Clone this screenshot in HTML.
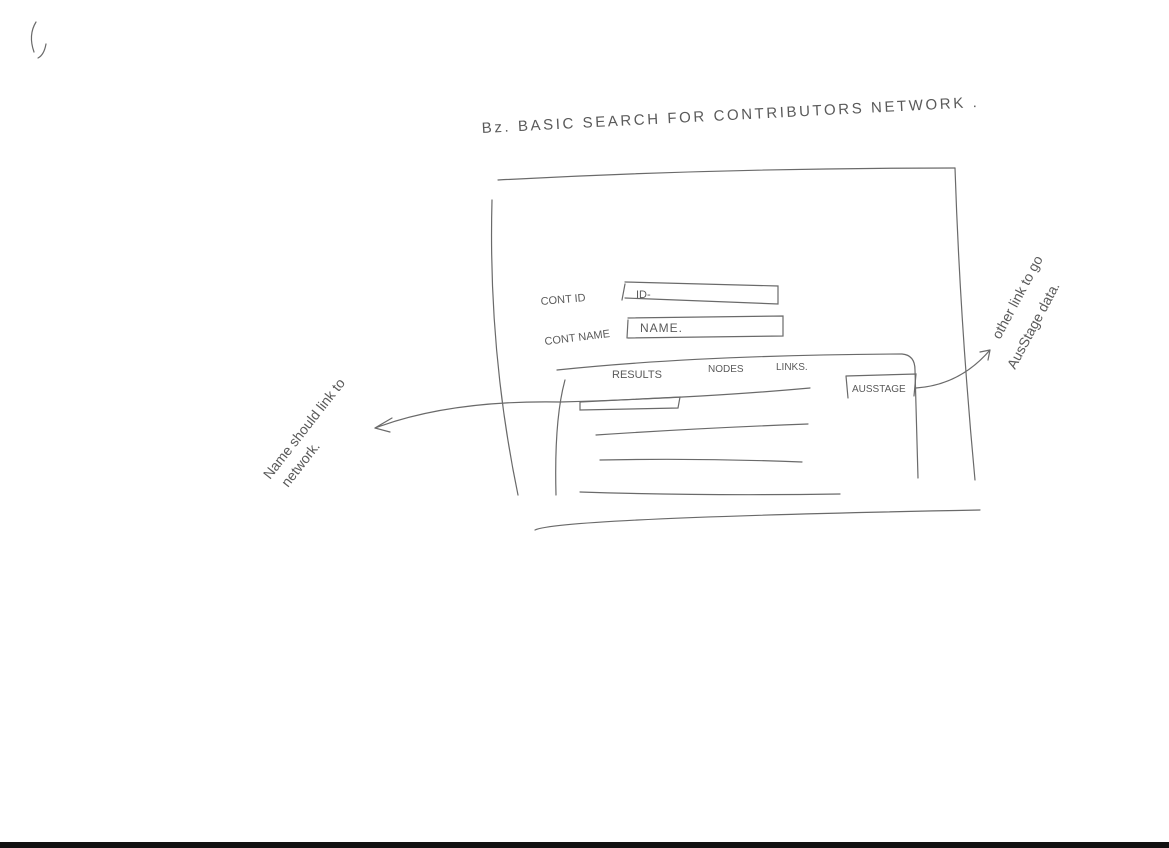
<!DOCTYPE html>
<html><head><style>html,body{margin:0;padding:0;background:#fff;}svg{display:block}</style></head>
<body>
<svg width="1169" height="848" viewBox="0 0 1169 848" xmlns="http://www.w3.org/2000/svg">
<rect width="1169" height="848" fill="#fff"/>
<rect x="0" y="842" width="1169" height="6" fill="#111"/>
<g fill="none" stroke="#6a6a6a" stroke-width="1.2" stroke-linecap="round">
<path d="M36 22 Q28 35 34 52 M46 44 Q44 55 38 58"/>
<path d="M498 180 Q720 168 955 168"/>
<path d="M492 200 Q488 350 518 495"/>
<path d="M955 168 Q960 320 975 480"/>
<path d="M535 530 Q560 518 980 510"/>
<path d="M625 282 L778 286 L778 304 L625 298 M625 284 L622 300"/>
<path d="M628 318 L783 316 L783 336 L628 338 M628 320 L627 338"/>
<path d="M557 370 Q700 355 902 354 Q915 355 915 370 L918 478"/>
<path d="M565 380 Q554 420 556 495"/>
<path d="M846 376 L916 374 L914 396 M846 376 L848 398"/>
<path d="M580 402 L680 397 L678 408 L580 410 Z"/>
<path d="M596 435 Q700 428 808 424"/>
<path d="M600 460 Q700 458 802 462"/>
<path d="M580 492 Q700 496 840 494"/>
<path d="M375 428 Q450 400 560 402 Q700 398 810 388"/>
<path d="M375 428 L392 418 M375 428 L390 432"/>
<path d="M916 388 Q960 385 990 350 M990 350 L980 352 M990 350 L988 360"/>
</g>
<g font-family="Liberation Sans, sans-serif" fill="#5a5a5a" font-size="13">
<text x="482" y="133" font-size="15" letter-spacing="2.6" transform="rotate(-3 482 133)">Bz. BASIC SEARCH FOR CONTRIBUTORS NETWORK .</text>
<text x="541" y="305" font-size="11" transform="rotate(-5 541 305)">CONT ID</text>
<text x="636" y="298" font-size="11">ID-</text>
<text x="545" y="345" font-size="11" transform="rotate(-7 545 345)">CONT NAME</text>
<text x="640" y="332" font-size="12" letter-spacing="1">NAME.</text>
<text x="612" y="378" font-size="11">RESULTS</text>
<text x="708" y="372" font-size="10">NODES</text>
<text x="776" y="370" font-size="10">LINKS.</text>
<text x="852" y="392" font-size="10">AUSSTAGE</text>
<text x="270" y="480" font-size="14" transform="rotate(-52 270 480)">Name should link to</text>
<text x="288" y="488" font-size="14" transform="rotate(-52 288 488)">network.</text>
<text x="1000" y="340" font-size="14" transform="rotate(-62 1000 340)">other link to go</text>
<text x="1015" y="370" font-size="14" transform="rotate(-62 1015 370)">AusStage data.</text>
</g>
</svg>
</body></html>
